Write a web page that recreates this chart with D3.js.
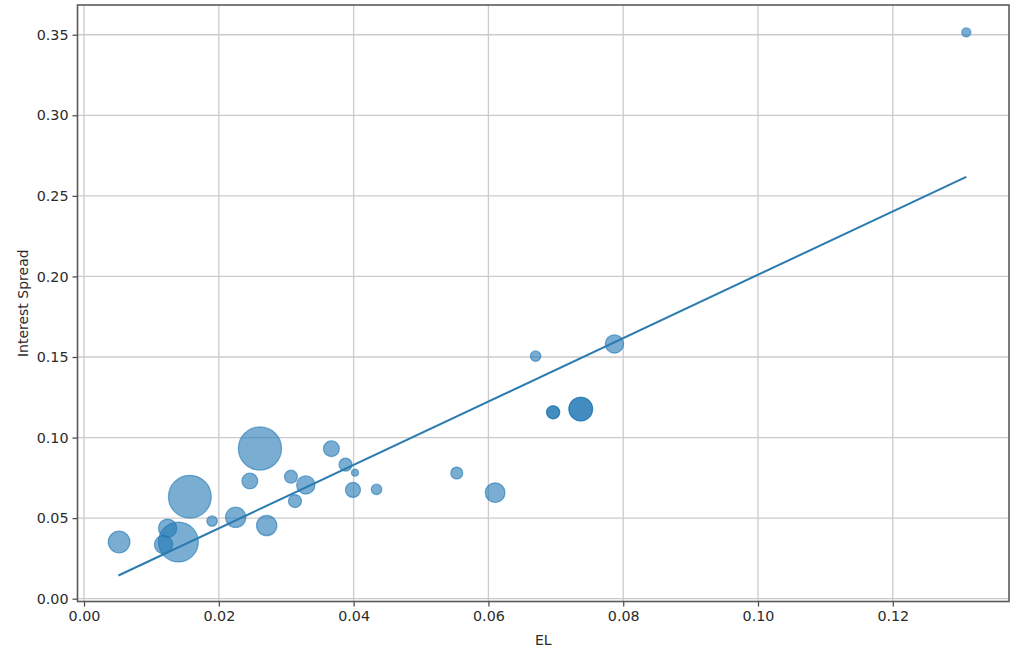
<!DOCTYPE html>
<html>
<head>
<meta charset="utf-8">
<script src="https://cdn.jsdelivr.net/npm/d3@7"></script>
<style>
  html, body { margin: 0; padding: 0; background: #fff; }
  svg { display: block; font-family: 'DejaVu Sans', sans-serif; }
</style>
</head>
<body>
<svg id="chart" width="1024" height="662"></svg>
<script>
// EL (x), interest spread (y) and marker size (area units)
const elValues = [0.0052, 0.0140, 0.0118, 0.0124, 0.0157, 0.0190, 0.0225, 0.0271, 0.0246, 0.0261,
  0.0307, 0.0329, 0.0313, 0.0367, 0.0388, 0.0402, 0.0399, 0.0434, 0.0553, 0.0610,
  0.0670, 0.0787, 0.0696, 0.0696, 0.0737, 0.0737, 0.1309];
const spreadValues = [0.0352, 0.0352, 0.0336, 0.0437, 0.0633, 0.0482, 0.0505, 0.0454, 0.0730, 0.0932,
  0.0757, 0.0706, 0.0606, 0.0931, 0.0832, 0.0782, 0.0675, 0.0679, 0.0780, 0.0658,
  0.1506, 0.1581, 0.1157, 0.1157, 0.1177, 0.1177, 0.3515];
const sizeValues = [137, 441, 100, 100, 506, 36, 121, 121, 76, 515,
  53, 100, 53, 76, 53, 18, 69, 36, 45, 114,
  36, 100, 53, 53, 161, 161, 28];

// fitted line end points
const fitX = [0.0051, 0.1309];
const fitY = [0.0144, 0.2618];

const xTicks = [0.00, 0.02, 0.04, 0.06, 0.08, 0.10, 0.12];
const yTicks = [0.00, 0.05, 0.10, 0.15, 0.20, 0.25, 0.30, 0.35];
const xDomain = [-0.00097, 0.13724];
const yDomain = [-0.00174, 0.36845];

const svg = d3.select('#chart');
const margin = { top: 5, right: 15, bottom: 60.5, left: 77.5 };
const width = 1024 - margin.left - margin.right;
const height = 662 - margin.top - margin.bottom;

const x = d3.scaleLinear().domain(xDomain).range([0, width]);
const y = d3.scaleLinear().domain(yDomain).range([height, 0]);
const r = d3.scaleSqrt().domain([0, 515]).range([0, 22.2]);

const points = elValues.map((d, i) => ({ el: d, spread: spreadValues[i], size: sizeValues[i] }));

const g = svg.append('g').attr('transform', `translate(${margin.left},${margin.top})`);

// grid
g.append('g')
  .selectAll('line')
  .data(xTicks)
  .join('line')
  .attr('x1', (d) => x(d))
  .attr('x2', (d) => x(d))
  .attr('y1', 0)
  .attr('y2', height)
  .attr('stroke', '#cbcbcb')
  .attr('stroke-width', 1.3);

g.append('g')
  .selectAll('line')
  .data(yTicks)
  .join('line')
  .attr('x1', 0)
  .attr('x2', width)
  .attr('y1', (d) => y(d))
  .attr('y2', (d) => y(d))
  .attr('stroke', '#cbcbcb')
  .attr('stroke-width', 1.3);

// points
g.append('g')
  .selectAll('circle')
  .data(points)
  .join('circle')
  .attr('cx', (d) => x(d.el))
  .attr('cy', (d) => y(d.spread))
  .attr('r', (d) => r(d.size) - 0.6)
  .attr('fill', 'rgba(31,119,180,0.6)')
  .attr('stroke', 'rgba(31,119,180,0.6)')
  .attr('stroke-width', 1.2);

// fit line
g.append('line')
  .attr('x1', x(fitX[0]))
  .attr('y1', y(fitY[0]))
  .attr('x2', x(fitX[1]))
  .attr('y2', y(fitY[1]))
  .attr('stroke', '#2a7bb0')
  .attr('stroke-width', 2);

// axes
const xAxis = d3.axisBottom(x).tickValues(xTicks).tickFormat(d3.format('.2f')).tickSize(5).tickPadding(4);
const yAxis = d3.axisLeft(y).tickValues(yTicks).tickFormat(d3.format('.2f')).tickSize(5).tickPadding(4);

const gx = g.append('g').attr('transform', `translate(0,${height})`).call(xAxis);
const gy = g.append('g').call(yAxis);

[gx, gy].forEach((ax) => {
  ax.select('.domain').remove();
  ax.selectAll('.tick line').attr('stroke', '#444').attr('stroke-width', 1.2);
  ax.selectAll('.tick text')
    .attr('fill', '#2b2b2b')
    .style('font-size', '14.3px')
    .style('font-family', "'DejaVu Sans', sans-serif");
});

// frame
g.append('rect')
  .attr('x', 0)
  .attr('y', 0)
  .attr('width', width)
  .attr('height', height)
  .attr('fill', 'none')
  .attr('stroke', '#5a5a5a')
  .attr('stroke-width', 1.6);

// axis labels
g.append('text')
  .attr('x', width / 2)
  .attr('y', height + 43)
  .attr('text-anchor', 'middle')
  .attr('fill', '#2b2b2b')
  .style('font-size', '14px')
  .text('EL');

g.append('text')
  .attr('transform', `translate(${-50},${height / 2}) rotate(-90)`)
  .attr('text-anchor', 'middle')
  .attr('fill', '#2b2b2b')
  .style('font-size', '14px')
  .text('Interest Spread');
</script>
</body>
</html>
